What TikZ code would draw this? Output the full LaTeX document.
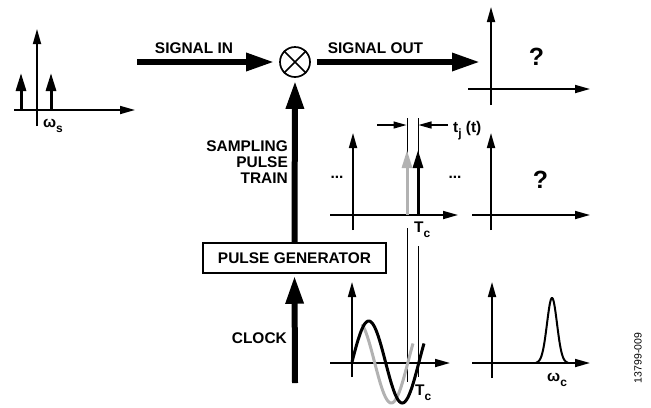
\documentclass[tikz,border=0pt]{standalone}
\usepackage{fontspec}
\setmainfont{Liberation Sans}
\usetikzlibrary{arrows.meta}
\definecolor{lgray}{RGB}{178,178,178}
\newcommand\lowsub[1]{\raisebox{-5bp}{\fontsize{12}{12}\selectfont #1}}
\begin{document}
\begin{tikzpicture}[x=1bp,y=-1bp,
  font=\fontsize{15.5}{16}\selectfont\bfseries,
  axis/.style={line width=1.7bp,-{Triangle[length=15bp,width=8bp]}},
  pulse/.style={line width=3bp,-{Triangle[length=18bp,width=10bp]}},
  bigarrow/.style={line width=6bp,-{Triangle[length=28bp,width=17bp]}},
  guide/.style={line width=1bp},
  jit/.style={line width=1.2bp,-{Triangle[length=13bp,width=7bp]}},
  wave/.style={line width=3bp},
  lbl/.style={inner sep=0pt},
  qmark/.style={inner sep=0pt,font=\fontsize{25}{25}\selectfont\bfseries}]
\useasboundingbox (0,0) rectangle (651,407);

% ---------- top-left spectrum ----------
\draw[axis] (37,126) -- (37,29);
\draw[axis] (14,110) -- (135,110);
\draw[pulse] (21,110) -- (21,73);
\draw[pulse] (51,110) -- (51,73);
\node[lbl,anchor=base west] (ws) at (43,127) {ω\lowsub{s}};

% ---------- mixer and main arrows ----------
\node[draw,circle,line width=1.7bp,minimum size=30bp,inner sep=0pt] (mult) at (295,62) {};
\draw[line width=1.7bp] (mult.45) -- (mult.225) (mult.135) -- (mult.315);
\coordinate (sigin) at (137,62);
\coordinate (sigout) at (480,62);
\draw[bigarrow,shorten >=5bp] (sigin) -- (mult.west);
\draw[bigarrow,shorten <=6bp] (mult.east) -- (sigout);
\node[lbl,anchor=base] (lin) at (194,53) {SIGNAL IN};
\node[lbl,anchor=base] (lout) at (375.5,53) {SIGNAL OUT};

% ---------- pulse generator ----------
\node[draw,line width=1.5bp,minimum width=183bp,minimum height=30bp,
      text height=11bp,text depth=0pt,inner sep=0pt] (pg) at (294.5,258) {PULSE GENERATOR};
\draw[bigarrow,shorten >=3bp] (pg.north) -- (mult.south);
\node[lbl,anchor=base east] (s1) at (288,151) {SAMPLING};
\node[lbl,anchor=base east] (s2) at (288,167) {PULSE};
\node[lbl,anchor=base east] (s3) at (288,183) {TRAIN};
\coordinate (clk) at (295,383);
\draw[bigarrow,shorten >=2bp] (clk) -- (pg.south);
\node[lbl,anchor=base east] (lclk) at (287,343) {CLOCK};

% ---------- top-right plot ----------
\draw[axis] (491,105) -- (491,7);
\draw[axis] (468,89) -- (590,89);
\node[qmark,anchor=base] (q1) at (536.5,65) {?};

% ---------- pulse train plot ----------
\draw[guide] (407,118) -- (407,215);
\draw[guide] (407,228) -- (407,382);
\draw[guide] (418,118) -- (418,215);
\draw[guide] (418,246) -- (418,377);
\draw[axis] (353,230) -- (353,133);
\draw[axis] (330,215) -- (458,215);
\draw[pulse,lgray] (407,215) -- (407,150);
\draw[pulse] (418,215) -- (418,150);
\draw[jit] (377,125) -- (406.5,125);
\draw[jit] (448,125) -- (418.5,125);
\node[lbl,anchor=base west] (tj) at (453,132) {t\lowsub{j} (t)};
\node[lbl,anchor=base] (d1) at (337,178) {...};
\node[lbl,anchor=base] (d2) at (455,178) {...};
\node[lbl,anchor=base west] (tc1) at (414,232) {T\lowsub{c}};

% ---------- middle-right plot ----------
\draw[axis] (491,230) -- (491,133);
\draw[axis] (472,215) -- (590,215);
\node[qmark,anchor=base] (q2) at (540.5,188) {?};

% ---------- clock waveform ----------
\draw[axis] (352,377) -- (352,282);
\draw[axis] (330,363) -- (450,363);
\draw[wave,lgray] plot[domain=362:413,samples=70] (\x,{362-41*sin((\x-341)/67*360)});
\draw[wave] plot[domain=352:424,samples=80] (\x,{362-41*sin((\x-352)/67*360)});
\node[lbl,anchor=base west] (tc2) at (415,395) {T\lowsub{c}};

% ---------- bottom-right spectrum ----------
\draw[axis] (492,378) -- (492,282);
\draw[axis] (472,363) -- (590,363);
\draw[line width=2bp] plot[domain=536:568,samples=90] (\x,{363-65*exp(-((\x-552)/5)^2/2)});
\node[lbl,anchor=base west] (wc) at (547,381) {ω\lowsub{c}};

% ---------- figure number ----------
\node[lbl,rotate=90,font=\fontsize{10.5}{11}\selectfont] (fig) at (638,358) {13799-009};
\end{tikzpicture}
\end{document}
